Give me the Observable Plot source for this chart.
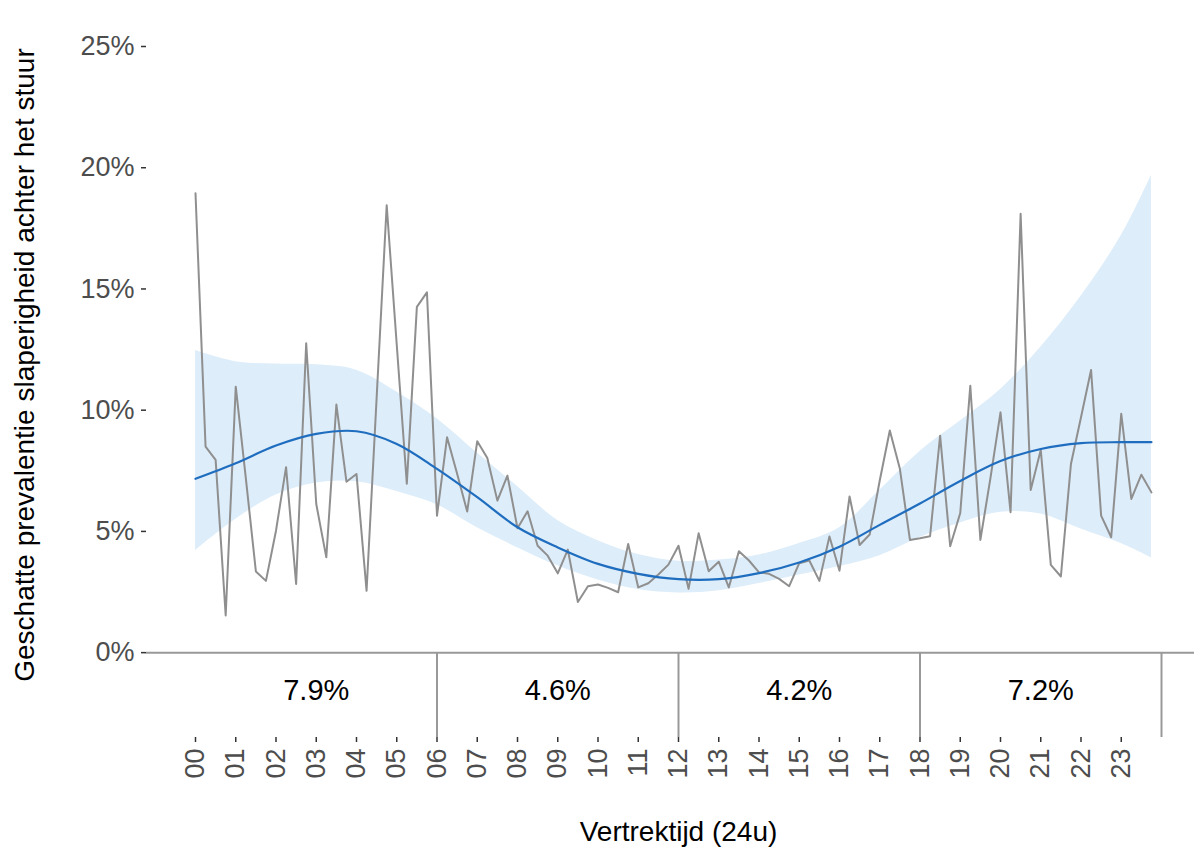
<!DOCTYPE html>
<html>
<head>
<meta charset="utf-8">
<script src="https://cdn.jsdelivr.net/npm/d3@7"></script>
<script src="https://cdn.jsdelivr.net/npm/@observablehq/plot@0.6"></script>
<style>
  html, body { margin: 0; padding: 0; background: #ffffff; }
  #chart svg { display: block; }
</style>
</head>
<body>
<div id="chart"></div>
<script>
// ---- Data ----
// Observed prevalence (%) per 15-minute departure slot, 00:00 ... 23:45
const obsStepHours = 0.25;
const observed = [
  18.95, 8.50, 7.95, 1.53, 10.97, 7.20, 3.35, 2.96, 5.03, 7.65, 2.83, 12.76,
  6.13, 3.93, 10.23, 7.05, 7.37, 2.55, 10.50, 18.45, 12.70, 6.97, 14.26, 14.86,
  5.65, 8.88, 7.38, 5.82, 8.72, 8.03, 6.27, 7.30, 5.13, 5.83, 4.41, 4.00,
  3.27, 4.25, 2.09, 2.74, 2.81, 2.67, 2.49, 4.48, 2.69, 2.86, 3.22, 3.63,
  4.41, 2.63, 4.92, 3.36, 3.75, 2.69, 4.18, 3.80, 3.31, 3.25, 3.04, 2.74,
  3.69, 3.80, 2.96, 4.79, 3.38, 6.44, 4.44, 4.87, 7.10, 9.16, 7.58, 4.65,
  4.72, 4.80, 8.95, 4.39, 5.76, 11.01, 4.65, 7.20, 9.91, 5.79, 18.10, 6.71,
  8.36, 3.62, 3.14, 7.78, 9.71, 11.66, 5.65, 4.76, 9.85, 6.34, 7.34, 6.61
];

// Smoothed fit and confidence band (%)
const fitHours = [0,1,2,3,4,5,6,7,8,9,10,11,12,13,14,15,16,17,18,19,20,21,22,23,23.75];
const fitValue = [7.17,7.81,8.54,9.02,9.13,8.61,7.58,6.41,5.17,4.34,3.66,3.25,3.03,3.03,3.28,3.72,4.37,5.27,6.15,7.08,7.90,8.40,8.64,8.68,8.68];
const fitUpper = [12.46,12.00,11.90,11.87,11.65,10.75,9.65,8.23,6.85,5.45,4.62,4.05,3.77,3.82,4.03,4.50,5.15,6.70,8.30,9.55,10.85,12.60,14.70,17.20,19.68];
const fitLower = [4.21,5.50,6.50,7.00,7.05,6.65,6.10,5.15,4.33,3.58,3.00,2.60,2.46,2.55,2.85,3.20,3.55,4.00,4.75,5.35,5.79,5.72,5.10,4.50,3.91];

// Period summaries
const periodCenters = [3, 9, 15, 21];
const periodLabels = ["7.9%", "4.6%", "4.2%", "7.2%"];
const periodBreaks = [6, 12, 18, 24];

// Axis ticks
const xTickValues = [0,1,2,3,4,5,6,7,8,9,10,11,12,13,14,15,16,17,18,19,20,21,22,23];
const xTickLabels = ["00","01","02","03","04","05","06","07","08","09","10","11","12","13","14","15","16","17","18","19","20","21","22","23"];
const yTickValues = [0, 5, 10, 15, 20, 25];
const yTickLabels = ["0%", "5%", "10%", "15%", "20%", "25%"];

const yTitle = "Geschatte prevalentie slaperigheid achter het stuur";
const xTitle = "Vertrektijd (24u)";

// ---- Tables ----
const obsTable = observed.map((v, i) => ({hour: i * obsStepHours, value: v}));
const fitTable = fitHours.map((h, i) => ({hour: h, fit: fitValue[i], lo: fitLower[i], hi: fitUpper[i]}));
const periodTable = periodCenters.map((c, i) => ({hour: c, label: periodLabels[i]}));

const FONT = "'Liberation Sans', Arial, Helvetica, sans-serif";

const chart = Plot.plot({
  width: 1194,
  height: 849,
  marginLeft: 195,
  marginRight: 33,
  marginTop: 46,
  marginBottom: 112,
  style: {fontFamily: FONT, fontSize: "28px", background: "#ffffff", overflow: "visible"},
  x: {domain: [0, 24]},
  y: {domain: [-3.5, 25]},
  marks: [
    // confidence band
    Plot.areaY(fitTable, {x: "hour", y1: "lo", y2: "hi", fill: "#ddedfa", curve: "catmull-rom"}),
    // observed
    Plot.lineY(obsTable, {x: "hour", y: "value", stroke: "#8f8f8f", strokeWidth: 2}),
    // fit
    Plot.lineY(fitTable, {x: "hour", y: "fit", stroke: "#1f6dbf", strokeWidth: 2.2, curve: "catmull-rom"}),
    // baseline
    Plot.ruleY([0], {x1: -1.22, x2: 24.85, stroke: "#999999", strokeWidth: 2}),
    // period dividers
    Plot.ruleX(periodBreaks, {y1: 0, y2: -3.5, stroke: "#999999", strokeWidth: 2}),
    // period labels
    Plot.text(periodTable, {x: "hour", y: -1.58, text: "label", fill: "#000000", fontSize: 29}),
    // axes
    Plot.axisY({
      ticks: yTickValues,
      tickFormat: (d) => yTickLabels[yTickValues.indexOf(d)],
      tickSize: 5, tickPadding: 7, dx: -49,
      fontSize: 27, fill: "#4d4d4d", stroke: "#333333", strokeWidth: 1.5,
      label: null
    }),
    Plot.axisX({
      ticks: xTickValues,
      tickFormat: (d) => xTickLabels[xTickValues.indexOf(d)],
      tickRotate: -90, tickSize: 5, tickPadding: 6,
      fontSize: 27, fill: "#4d4d4d", stroke: "#333333", strokeWidth: 1.5,
      label: null
    }),
    // axis titles
    Plot.text([yTitle], {frameAnchor: "left", dx: -170, dy: -27, rotate: -90, fill: "#000000", fontSize: 28, textAnchor: "middle"}),
    Plot.text([xTitle], {x: 12, frameAnchor: "bottom", dy: 103, fill: "#000000", fontSize: 28, textAnchor: "middle"})
  ]
});

document.getElementById("chart").appendChild(chart);
</script>
</body>
</html>
